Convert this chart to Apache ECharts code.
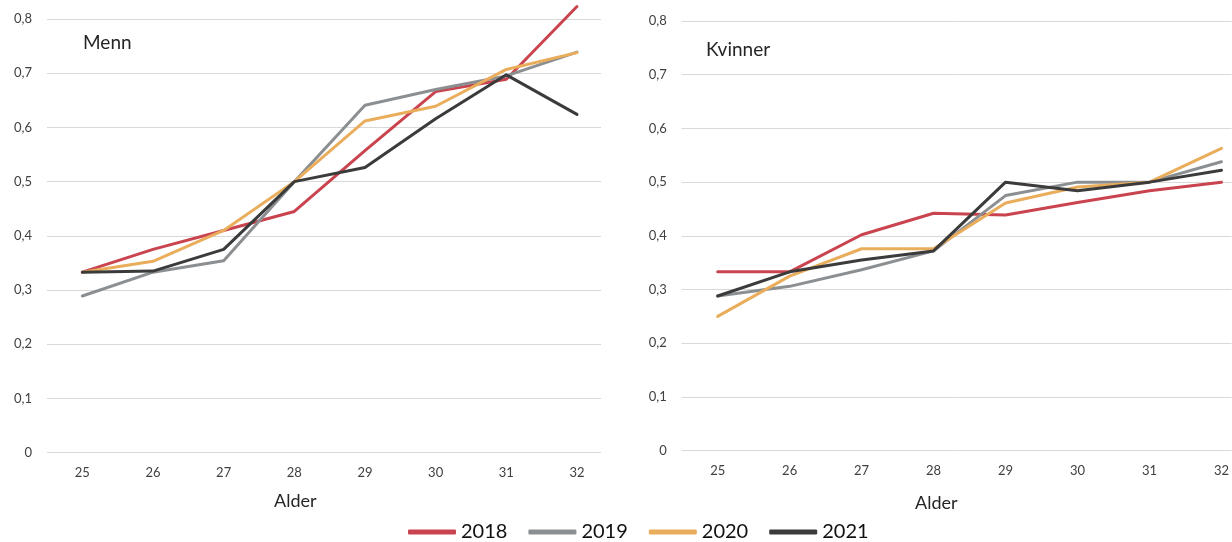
<!DOCTYPE html>
<html>
<head>
<meta charset="utf-8">
<script src="https://cdn.jsdelivr.net/npm/echarts@6/dist/echarts.min.js"></script>
<style>
html,body{margin:0;padding:0;background:#fff;}
#c{width:1232px;height:542px;}
</style>
</head>
<body>
<div id="c"></div>
<script>
// Data
const ages = [25, 26, 27, 28, 29, 30, 31, 32];
const years = ['2018', '2019', '2020', '2021'];
const yTicks = [0, 0.1, 0.2, 0.3, 0.4, 0.5, 0.6, 0.7, 0.8];
const panelTitles = ['Menn', 'Kvinner'];
const xAxisName = 'Alder';

const menn2018 = [0.333, 0.375, 0.410, 0.445, 0.557, 0.666, 0.689, 0.823];
const menn2019 = [0.289, 0.333, 0.354, 0.500, 0.641, 0.670, 0.695, 0.739];
const menn2020 = [0.333, 0.353, 0.410, 0.500, 0.612, 0.639, 0.707, 0.738];
const menn2021 = [0.333, 0.335, 0.375, 0.500, 0.526, 0.616, 0.697, 0.624];

const kvinner2018 = [0.333, 0.333, 0.402, 0.442, 0.439, 0.462, 0.484, 0.500];
const kvinner2019 = [0.288, 0.306, 0.337, 0.372, 0.475, 0.500, 0.500, 0.538];
const kvinner2020 = [0.250, 0.325, 0.376, 0.376, 0.461, 0.491, 0.500, 0.563];
const kvinner2021 = [0.288, 0.333, 0.355, 0.372, 0.500, 0.484, 0.500, 0.522];

const colors = ['#C9444F', '#8C8F92', '#E9AD5C', '#3B3B3B'];

const mennSeries = [menn2018, menn2019, menn2020, menn2021];
const kvinnerSeries = [kvinner2018, kvinner2019, kvinner2020, kvinner2021];

const FONT = 'Lato';
const fmt = v => String(+v.toFixed(1)).replace('.', ',');

function xAxis(gridIndex, max) {
  return {
    type: 'value', gridIndex, min: 24.5, max,
    axisLine: {show: false}, axisTick: {show: false}, splitLine: {show: false},
    axisLabel: {customValues: ages, color: '#404040', fontFamily: FONT, fontSize: 13, margin: 14}
  };
}
function yAxis(gridIndex) {
  return {
    type: 'value', gridIndex, min: yTicks[0], max: yTicks[yTicks.length - 1], interval: 0.1,
    axisLine: {show: false}, axisTick: {show: false},
    splitLine: {lineStyle: {color: '#D9D9D9', width: 1}},
    axisLabel: {formatter: fmt, color: '#404040', fontFamily: FONT, fontSize: 13, margin: 15}
  };
}
function mk(arr, idx, panel) {
  return {
    name: years[idx], type: 'line', xAxisIndex: panel, yAxisIndex: panel,
    data: ages.map((a, i) => [a, arr[i]]),
    symbol: 'none', animation: false, clip: false,
    lineStyle: {width: 3, color: colors[idx], cap: 'round', join: 'round'},
    itemStyle: {color: colors[idx]}
  };
}

const series = [];
mennSeries.forEach((arr, i) => series.push(mk(arr, i, 0)));
kvinnerSeries.forEach((arr, i) => series.push(mk(arr, i, 1)));

const titleStyle = {fontFamily: FONT, fontSize: 19, fontWeight: 'normal', color: '#262626'};
const nameStyle = {fontFamily: FONT, fontSize: 18, fontWeight: 'normal', color: '#262626'};

const chart = echarts.init(document.getElementById('c'), null, {renderer: 'canvas'});
chart.setOption({
  animation: false,
  color: colors,
  title: [
    {text: panelTitles[0], left: 83, top: 33, padding: 0, textStyle: titleStyle},
    {text: panelTitles[1], left: 706, top: 40, padding: 0, textStyle: titleStyle},
    {text: xAxisName, left: 274, top: 492, padding: 0, textStyle: nameStyle},
    {text: xAxisName, left: 915, top: 494, padding: 0, textStyle: nameStyle}
  ],
  legend: {
    data: years, left: 408, top: 522, itemWidth: 48, itemHeight: 5, itemGap: 21,
    icon: 'roundRect', padding: 0,
    textStyle: {fontFamily: FONT, fontSize: 20, color: '#111'}
  },
  grid: [
    {left: 47, top: 19, width: 554, height: 433.7},
    {left: 681.7, top: 21, width: 550.3, height: 429.7}
  ],
  xAxis: [xAxis(0, 32.34), xAxis(1, 32.14)],
  yAxis: [yAxis(0), yAxis(1)],
  series
});
</script>
</body>
</html>
